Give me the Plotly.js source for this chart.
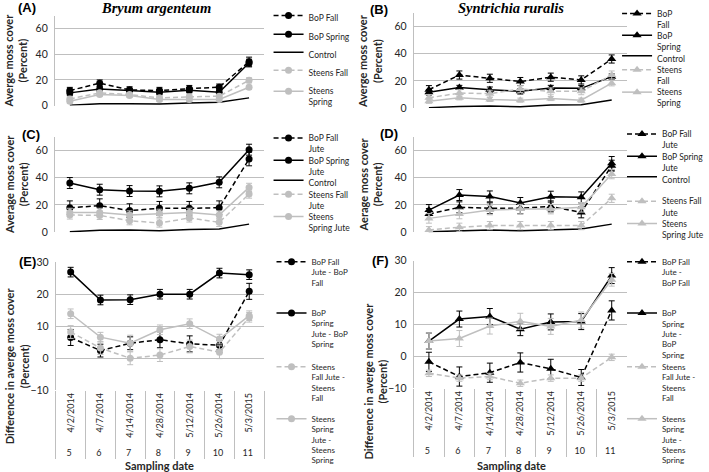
<!DOCTYPE html>
<html><head><meta charset="utf-8">
<script src="https://cdn.plot.ly/plotly-3.0.1.min.js"></script>
<style>html,body{margin:0;padding:0;background:#fff}#chart{width:709px;height:472px}</style>
</head><body><div id="chart"></div>
<script>
// ---------- categories ----------
const dates = ['4/2/2014','4/7/2014','4/14/2014','4/28/2014','5/12/2014','5/26/2014','5/3/2015'];
const sessions = ['5','6','7','8','9','10','11'];

// ---------- Panel A: Bryum argenteum, average cover ----------
const aBoPFall = [11.7,17.5,12.2,11.7,13.2,14.3,34.3];
const aBoPFallErr = [2.5,2.5,2.5,2.5,2.5,2.5,3.5];
const aBoPSpring = [9.9,13.0,11.7,10.4,12.0,10.4,33.2];
const aBoPSpringErr = [2,2,2,2,2,2,3];
const aControl = [0.3,1.5,1.5,1.2,2.0,2.6,6.0];
const aSteensFall = [5.2,9.9,8.6,6.0,6.8,7.3,19.7];
const aSteensFallErr = [2,1.5,1.5,1.5,2,1.5,2];
const aSteensSpring = [3.4,8.6,7.8,4.7,4.7,4.7,14.3];
const aSteensSpringErr = [1.5,1.5,1.5,1.5,1.5,1.5,1.5];

// ---------- Panel B: Syntrichia ruralis, average cover ----------
const bBoPFall = [13.5,24.3,21.9,19.5,22.7,20.7,36.1];
const bBoPFallErr = [3,3,3,3,3,3,3];
const bBoPSpring = [11.6,15.2,13.5,12.3,14.7,14.5,23.1];
const bBoPSpringErr = [2,1.5,2,2,2,2,2];
const bControl = [0.3,1.2,1.5,1.0,2.2,2.4,6.0];
const bSteensFall = [7.5,11.0,10.6,14.0,12.3,12.3,24.3];
const bSteensFallErr = [2.5,2.5,2.5,2.5,2.5,2.5,3];
const bSteensSpring = [5.0,7.5,6.3,5.8,7.0,5.8,18.3];
const bSteensSpringErr = [1.5,1.5,1.5,1.5,1.5,1.5,2];

// ---------- Panel C: Bryum, jute ----------
const cBoPFallJute = [18.0,19.5,15.9,17.6,17.6,18.0,53.7];
const cBoPFallJuteErr = [5,5,5,5,5,5,5];
const cBoPSpringJute = [36.1,31.2,30.2,30.0,32.2,36.6,60.5];
const cBoPSpringJuteErr = [4,4,4,4,4,4,4];
const cControl = [0.5,1.5,1.7,1.2,2.0,2.4,6.0];
const cSteensFallJute = [12.7,12.4,8.5,6.8,10.5,7.3,28.0];
const cSteensFallJuteErr = [3,3,3,3,3,3,3];
const cSteensSpringJute = [14.6,14.6,12.7,13.9,14.6,12.7,32.9];
const cSteensSpringJuteErr = [3,3,3,3,3,3,3];

// ---------- Panel D: Syntrichia, jute ----------
const dBoPFallJute = [13.4,18.3,17.6,17.6,19.0,14.6,48.8];
const dBoPFallJuteErr = [4,4,4,4,4,4,4];
const dBoPSpringJute = [16.3,27.3,26.3,21.5,26.1,25.6,50.5];
const dBoPSpringJuteErr = [4,4,4,4,4,4,5];
const dControl = [0.5,1.2,1.7,1.2,2.0,2.4,6.0];
const dSteensFallJute = [1.7,3.7,4.9,4.9,4.9,4.9,24.9];
const dSteensFallJuteErr = [2.5,3,3,3,3,3,3];
const dSteensSpringJute = [10.2,13.4,16.3,17.0,17.0,18.3,42.7];
const dSteensSpringJuteErr = [3.5,3.5,3.5,3.5,3.5,3.5,3.5];

// ---------- Panel E: Bryum, difference ----------
const eBoPFallDiff = [6.5,2.4,4.7,5.8,4.5,4.1,20.9];
const eBoPFallDiffErr = [2.5,2,2,2.5,2.5,1.5,2.5];
const eBoPSpringDiff = [26.9,18.2,18.3,20.0,20.0,26.6,26.1];
const eBoPSpringDiffErr = [1.5,1.5,1.5,1.5,1.5,1.5,1.5];
const eSteensFallDiff = [8.2,3.2,0.0,1.0,3.7,1.9,12.8];
const eSteensFallDiffErr = [2,2,2,2,2,2,1.5];
const eSteensSpringDiff = [13.9,6.6,4.7,8.9,10.8,6.0,13.3];
const eSteensSpringDiffErr = [1.5,1.5,2.5,1.5,1.5,1.5,1.5];

// ---------- Panel F: Syntrichia, difference ----------
const fBoPFallDiff = [-1.7,-6.3,-5.1,-1.9,-3.9,-6.6,14.4];
const fBoPFallDiffErr = [3,3,3,3,3,2.5,3];
const fBoPSpringDiff = [4.8,11.7,12.5,8.5,10.8,10.9,25.3];
const fBoPSpringDiffErr = [2.5,2.5,2.5,2,2.5,2.5,2.5];
const fSteensFallDiff = [-5.3,-6.8,-6.3,-8.4,-6.8,-6.8,-0.3];
const fSteensFallDiffErr = [1,1,1,1,1,1,1];
const fSteensSpringDiff = [4.8,5.6,9.5,11.0,9.4,11.4,24.0];
const fSteensSpringDiffErr = [2.5,2.5,2.5,2.5,2.5,2.5,2];

// ---------- styling ----------
const W = 709, H = 472;
const BLACK = '#000000', GRAY = '#bfbfbf', GRID = '#bfbfbf', TXT = '#262626';
const FONT = 'Lato, "Open Sans", sans-serif';
const xd = (l, r) => [l / W, r / W];
const yd = (t, b) => [1 - b / H, 1 - t / H];

const kinds = {
  bf: {color: BLACK, dash: '5px,3px', marker: true},
  bs: {color: BLACK, dash: 'solid', marker: true},
  ct: {color: BLACK, dash: 'solid', marker: false},
  sf: {color: GRAY, dash: '5px,3px', marker: true},
  ss: {color: GRAY, dash: 'solid', marker: true}
};

const panels = [
  {ax: '', x: [55.6, 267.4], y: [16, 106], range: [0, 70], dtick: 20, sym: 'circle', multi: false,
   legX: 272, legFs: 8.5, series: [
    ['BoP Fall', aBoPFall, aBoPFallErr, 'bf', 18],
    ['BoP Spring', aBoPSpring, aBoPSpringErr, 'bs', 37],
    ['Control', aControl, null, 'ct', 55],
    ['Steens Fall', aSteensFall, aSteensFallErr, 'sf', 73],
    ['Steens<br>Spring', aSteensSpring, aSteensSpringErr, 'ss', 92]]},
  {ax: '2', x: [419, 635], y: [13, 108.5], range: [0, 70], dtick: 20, sym: 'triangle-up', multi: false,
   legX: 625, legFs: 8.5, series: [
    ['BoP<br>Fall', bBoPFall, bBoPFallErr, 'bf', 14],
    ['BoP<br>Spring', bBoPSpring, bBoPSpringErr, 'bs', 36],
    ['Control', bControl, null, 'ct', 58.5],
    ['Steens<br>Fall', bSteensFall, bSteensFallErr, 'sf', 70.5],
    ['Steens<br>Spring', bSteensSpring, bSteensSpringErr, 'ss', 93]]},
  {ax: '3', x: [55.6, 267.4], y: [137.3, 233.3], range: [0, 70], dtick: 20, sym: 'circle', multi: false,
   legX: 272, legFs: 8.5, series: [
    ['BoP Fall<br>Jute', cBoPFallJute, cBoPFallJuteErr, 'bf', 139],
    ['BoP Spring<br>Jute', cBoPSpringJute, cBoPSpringJuteErr, 'bs', 161.5],
    ['Control', cControl, null, 'ct', 183.5],
    ['Steens Fall<br>Jute', cSteensFallJute, cSteensFallJuteErr, 'sf', 195.5],
    ['Steens<br>Spring Jute', cSteensSpringJute, cSteensSpringJuteErr, 'ss', 218]]},
  {ax: '4', x: [419, 635], y: [137.3, 233.3], range: [0, 70], dtick: 20, sym: 'triangle-up', multi: false,
   legX: 630, legFs: 8.5, series: [
    ['BoP Fall<br>Jute', dBoPFallJute, dBoPFallJuteErr, 'bf', 135],
    ['BoP Spring<br>Jute', dBoPSpringJute, dBoPSpringJuteErr, 'bs', 157.5],
    ['Control', dControl, null, 'ct', 180],
    ['Steens Fall<br>Jute', dSteensFallJute, dSteensFallJuteErr, 'sf', 202.5],
    ['Steens<br>Spring Jute', dSteensSpringJute, dSteensSpringJuteErr, 'ss', 225]]},
  {ax: '5', x: [56.5, 267.5], y: [263.3, 392], range: [-10, 30], dtick: 10, sym: 'circle', multi: true,
   legX: 275, legFs: 8, series: [
    ['BoP Fall<br>Jute - BoP<br>Fall', eBoPFallDiff, eBoPFallDiffErr, 'bf', 263.3],
    ['BoP<br>Spring<br>Jute - BoP<br>Spring', eBoPSpringDiff, eBoPSpringDiffErr, 'bs', 314.5],
    ['Steens<br>Fall Jute -<br>Steens<br>Fall', eSteensFallDiff, eSteensFallDiffErr, 'sf', 368.5],
    ['Steens<br>Spring<br>Jute -<br>Steens<br>Spring', eSteensSpringDiff, eSteensSpringDiffErr, 'ss', 421]]},
  {ax: '6', x: [419, 635], y: [261.7, 390], range: [-10, 30], dtick: 10, sym: 'triangle-up', multi: true,
   legX: 630, legFs: 8, series: [
    ['BoP Fall<br>Jute -<br>BoP Fall', fBoPFallDiff, fBoPFallDiffErr, 'bf', 263.3],
    ['BoP<br>Spring<br>Jute -<br>BoP<br>Spring', fBoPSpringDiff, fBoPSpringDiffErr, 'bs', 314.5],
    ['Steens<br>Fall Jute -<br>Steens<br>Fall', fSteensFallDiff, fSteensFallDiffErr, 'sf', 368.5],
    ['Steens<br>Spring<br>Jute -<br>Steens<br>Spring', fSteensSpringDiff, fSteensSpringDiffErr, 'ss', 421]]}
];

const traces = [];
const layout = {
  width: W, height: H,
  margin: {l: 0, r: 0, t: 0, b: 0},
  paper_bgcolor: '#ffffff', plot_bgcolor: 'rgba(0,0,0,0)',
  font: {family: FONT, color: TXT},
  showlegend: true,
  annotations: []
};

let legN = 0;
panels.forEach(p => {
  const xa = 'xaxis' + p.ax, ya = 'yaxis' + p.ax;
  const xref = 'x' + p.ax, yref = 'y' + p.ax;
  layout[xa] = {
    domain: xd(p.x[0], p.x[1]), anchor: yref,
    type: p.multi ? 'multicategory' : 'category',
    range: [-0.5, 6.5],
    showgrid: false, showline: false, zeroline: false, ticks: '',
    showticklabels: p.multi, fixedrange: true
  };
  if (p.multi) {
    Object.assign(layout[xa], {
      tickangle: -90, showdividers: true, dividercolor: GRID, dividerwidth: 1,
      tickfont: {family: FONT, size: 9, color: TXT}
    });
  }
  layout[ya] = {
    domain: yd(p.y[0], p.y[1]), anchor: xref,
    range: p.range, tick0: 0, dtick: p.dtick,
    showgrid: true, gridcolor: GRID, gridwidth: 1, zeroline: false,
    showline: true, linecolor: GRID, linewidth: 1, ticks: '',
    ticklabelstandoff: 4,
    tickfont: {family: FONT, size: 10.5, color: TXT}, fixedrange: true
  };
  const xvals = p.multi ? [sessions, dates] : dates;
  const LH = p.legFs * 1.3;
  p.series.forEach(s => {
    const [name, yv, err, kind, legY] = s;
    const k = kinds[kind];
    legN++;
    const lid = legN === 1 ? 'legend' : 'legend' + legN;
    const t = {
      type: 'scatter', x: xvals, y: yv, name: name,
      xaxis: xref, yaxis: yref, legend: lid,
      mode: k.marker ? 'lines+markers' : 'lines',
      line: {color: k.color, width: 1.5, dash: k.dash},
      cliponaxis: false
    };
    if (k.marker) t.marker = {symbol: p.sym, size: p.sym === 'circle' ? 7 : 8, color: k.color};
    if (err) t.error_y = {type: 'data', array: err, visible: true, color: k.color, thickness: 1, width: 3};
    traces.push(t);
    const nLines = name.split('<br>').length;
    const mid = legY + (nLines - 1) * LH / 2;
    layout[lid] = {
      x: p.legX / W, xanchor: 'left', y: 1 - mid / H, yanchor: 'middle',
      valign: 'top', bgcolor: 'rgba(0,0,0,0)', borderwidth: 0,
      font: {family: FONT, size: p.legFs, color: TXT}
    };
  });
});

// titles and labels
const ann = (text, x, y, opts) => Object.assign({
  text: text, x: x / W, y: 1 - y / H, xref: 'paper', yref: 'paper',
  xanchor: 'center', yanchor: 'middle', showarrow: false
}, opts || {});
const titleFont = {family: FONT, size: 11, color: TXT, weight: 'bold'};
const labFont = {family: '"Liberation Sans", Arial, sans-serif', size: 13, color: '#000', weight: 'bold'};
const spFont = {family: '"Liberation Serif", "Times New Roman", serif', size: 14.5, color: '#000', weight: 'bold', style: 'italic'};
layout.annotations.push(
  ann('Bryum argenteum', 157.5, 8, {font: spFont}),
  ann('Syntrichia ruralis', 517.5, 8, {font: spFont}),
  ann('(A)', 27.5, 8, {font: labFont}),
  ann('(B)', 384, 10, {font: labFont}),
  ann('(C)', 31, 135.5, {font: labFont}),
  ann('(D)', 394, 134.5, {font: labFont}),
  ann('(E)', 28, 263, {font: labFont}),
  ann('(F)', 385, 262, {font: labFont}),
  ann('Averge moss cover<br>(Percent)', 16, 61, {textangle: -90, font: titleFont}),
  ann('Averge moss cover<br>(Percent)', 375, 61, {textangle: -90, font: titleFont}),
  ann('Average moss cover<br>(Percent)', 16, 185, {textangle: -90, font: titleFont}),
  ann('Aerage moss cover<br>(Percent)', 375, 185, {textangle: -90, font: titleFont}),
  ann('Difference in averge moss cover<br>(Percent)', 17, 367, {textangle: -90, font: titleFont}),
  ann('Difference in averge moss cover<br>(Percent)', 380, 383, {textangle: -90, font: titleFont}),
  ann('Sampling date', 162, 467, {font: titleFont}),
  ann('Sampling date', 518, 467, {font: titleFont})
);

Plotly.newPlot('chart', traces, layout, {displayModeBar: false, staticPlot: true});
</script>
</body></html>
